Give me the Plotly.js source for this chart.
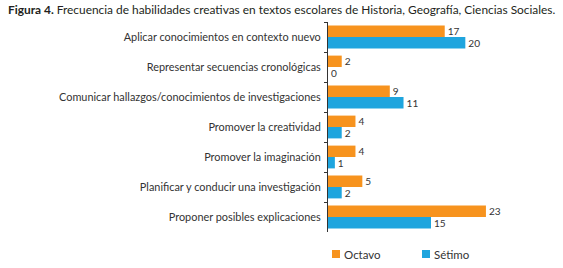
<!DOCTYPE html>
<html><head><meta charset="utf-8">
<script src="https://cdn.plot.ly/plotly-3.0.1.min.js"></script>
<style>html,body{margin:0;padding:0;background:#fff}#c{width:563px;height:268px}</style>
</head><body><div id="c"></div>
<script>
const categories = [
  "Aplicar conocimientos en contexto nuevo",
  "Representar secuencias cronológicas",
  "Comunicar hallazgos/conocimientos de investigaciones",
  "Promover la creatividad",
  "Promover la imaginación",
  "Planificar y conducir una investigación",
  "Proponer posibles explicaciones"
];
const seriesNames = ["Octavo", "Sétimo"];
const octavo = [17, 2, 9, 4, 4, 5, 23];
const setimo = [20, 0, 11, 2, 1, 2, 15];
const colors = ["#F7931E", "#1FA5DE"];
const titleText = "<b>Figura 4.</b> Frecuencia de habilidades creativas en textos escolares de Historia, Geografía, Ciencias Sociales.";

const FONT = "Lato, 'Open Sans', sans-serif";
const textColor = "#333333";

const traces = [octavo, setimo].map((vals, i) => ({
  type: "bar", orientation: "h",
  name: seriesNames[i], x: vals, y: categories,
  marker: {color: colors[i]},
  text: vals.map(String), textposition: "outside", cliponaxis: false,
  textfont: {family: FONT, size: 11.5, color: textColor},
  hoverinfo: "none", showlegend: false
}));

const legX = [332, 422];
const shapes = [], annotations = [];
seriesNames.forEach((n, i) => {
  shapes.push({type: "rect", xref: "paper", yref: "paper",
    x0: (legX[i] - 328) / 206, x1: (legX[i] + 8 - 328) / 206,
    y0: (232 - 250) / 210, y1: (232 - 258) / 210,
    fillcolor: colors[i], line: {width: 0}});
  annotations.push({xref: "paper", yref: "paper", x: (legX[i] + 10 - 328) / 206,
    y: (232 - 254) / 210, xanchor: "left", yanchor: "middle", showarrow: false,
    text: n, font: {family: FONT, size: 11.5, color: textColor}});
});

const layout = {
  width: 563, height: 268,
  margin: {l: 328, r: 29, t: 22, b: 36},
  paper_bgcolor: "#fff", plot_bgcolor: "#fff",
  barmode: "group", bargap: 0.24, bargroupgap: 0,
  title: {text: titleText, x: 8 / 563, xanchor: "left", xref: "container",
    y: 1 - 10 / 268, yanchor: "middle", yref: "container",
    font: {family: FONT, size: 11.9, color: "#231f20"}},
  xaxis: {range: [0, 30], visible: false, fixedrange: true},
  yaxis: {autorange: "reversed", type: "category", showline: true, linecolor: "#333", linewidth: 1,
    ticks: "outside", ticklen: 3, tickcolor: "#333", tickson: "boundaries",
    tickfont: {family: FONT, size: 10.9, color: textColor}, ticklabelstandoff: 4,
    showgrid: false, zeroline: false, fixedrange: true},
  shapes: shapes, annotations: annotations,
  showlegend: false
};
Plotly.newPlot("c", traces, layout, {displayModeBar: false, staticPlot: true});
</script></body></html>
